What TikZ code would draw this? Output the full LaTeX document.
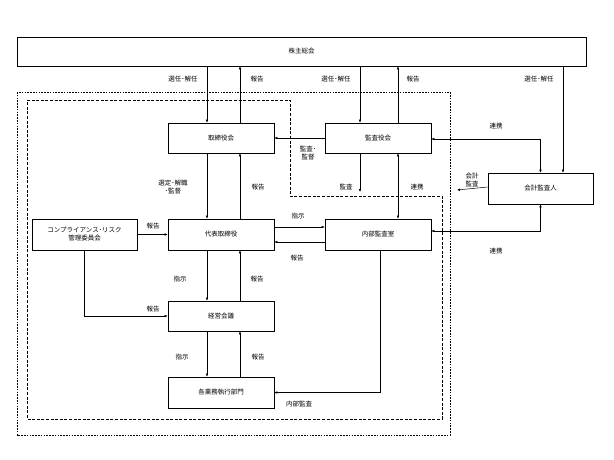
\documentclass[tikz,border=0pt]{standalone}
\usepackage{fontspec}
\setmainfont{Noto Sans CJK JP}
\usetikzlibrary{arrows.meta, positioning, calc}

\begin{document}
\begin{tikzpicture}[
    x=1pt, y=-1pt,
    every node/.style={font=\fontsize{6.5}{8}\selectfont, inner sep=1pt},
    orgbox/.style={rectangle, draw, line width=0.6pt, minimum width=106pt, minimum height=31pt, align=center, inner sep=2pt},
    arrow/.style={-{Latex[length=3pt, width=2.6pt]}, line width=0.5pt},
    twoway/.style={{Latex[length=3pt, width=2.6pt]}-{Latex[length=3pt, width=2.6pt]}, line width=0.5pt},
    lbl/.style={align=center},
    outerline/.style={line width=0.6pt, dash pattern=on 1.6pt off 1.2pt},
    innerline/.style={line width=0.6pt, dash pattern=on 3pt off 1.6pt}
]
\useasboundingbox (0,0) rectangle (614,460);

% ============ BOXES ============
\node[orgbox, minimum width=569pt, minimum height=29pt] (shareholders) at (301.5,51.5) {株主総会};

\node[orgbox, minimum height=30pt] (board) at (221,138) {取締役会};
\node[orgbox, minimum height=30pt] (auditors) at (378,138) {監査役会};
\node[orgbox, minimum width=105pt] (accountant) at (540.5,188.5) {会計監査人};

\node[orgbox, minimum width=105pt] (compliance) at (84.5,234.5) {コンプライアンス･リスク\\管理委員会};
\node[orgbox] (ceo) at (221,234.5) {代表取締役};
\node[orgbox] (audit) at (378,234.5) {内部監査室};

\node[orgbox, minimum height=30pt] (mgmt) at (221,316) {経営会議};
\node[orgbox] (divisions) at (221,392.5) {各業務執行部門};

% ============ DASHED AREAS ============
\draw[outerline] (17,92) rectangle (450,435);
\draw[innerline] (27,100) -- (290,100) -- (290,196) -- (442,196) -- (442,419) -- (27,419) -- cycle;

% free ends
\coordinate (acctend) at (457,190);
\coordinate (auditend) at (360,192);

% ============ ARROWS ============
% shareholders meeting
\draw[arrow] ([xshift=-14pt]board.north |- shareholders.south) -- ([xshift=-14pt]board.north);
\draw[arrow] ([xshift=19pt]board.north) -- ([xshift=19pt]board.north |- shareholders.south);
\draw[arrow] ([xshift=-18pt]auditors.north |- shareholders.south) -- ([xshift=-18pt]auditors.north);
\draw[arrow] ([xshift=20pt]auditors.north) -- ([xshift=20pt]auditors.north |- shareholders.south);
\draw[arrow] ([xshift=22.5pt]accountant.north |- shareholders.south) -- ([xshift=22.5pt]accountant.north);

% auditors
\draw[arrow] (auditors.west) -- (board.east);
\draw[twoway] ([yshift=-1pt]auditors.east) -| (accountant.north);
\draw[arrow] ([yshift=1.5pt]accountant.west) -- (acctend);
\draw[twoway] (accountant.south) |- ([yshift=3.5pt]audit.east);
\draw[arrow] (auditors.south -| auditend) -- (auditend);
\draw[twoway] ([xshift=20pt]auditors.south) -- ([xshift=20pt]audit.north);

% board and representative director
\draw[arrow] ([xshift=-14pt]board.south) -- ([xshift=-14pt]ceo.north);
\draw[arrow] ([xshift=19pt]ceo.north) -- ([xshift=19pt]board.south);
\draw[arrow] ([yshift=7.5pt]ceo.east) -- ([yshift=7.5pt]audit.west);
\draw[arrow] ([yshift=-7.5pt]audit.west) -- ([yshift=-7.5pt]ceo.east);
\draw[arrow] (compliance.east) -- (ceo.west);
\draw[arrow] (compliance.south) |- (mgmt.west);

% management meeting and divisions
\draw[arrow] ([xshift=-14pt]ceo.south) -- ([xshift=-14pt]mgmt.north);
\draw[arrow] ([xshift=19pt]mgmt.north) -- ([xshift=19pt]ceo.south);
\draw[arrow] ([xshift=-14pt]mgmt.south) -- ([xshift=-14pt]divisions.north);
\draw[arrow] ([xshift=19pt]divisions.north) -- ([xshift=19pt]mgmt.south);
\draw[arrow] ([xshift=2pt]audit.south) |- (divisions.east);

% ============ LABELS ============
\node[lbl] (l-elect1) at (183,79) {選任･解任};
\node[lbl] (l-rep1) at (257,79) {報告};
\node[lbl] (l-elect2) at (336,79) {選任･解任};
\node[lbl] (l-rep2) at (413,79) {報告};
\node[lbl] (l-elect3) at (539,79) {選任･解任};

\node[lbl] (l-coop1) at (496,126) {連携};
\node[lbl] (l-supervise) at (308,153) {監査･\\監督};
\node[lbl] (l-acct) at (472,180) {会計\\監査};
\node[lbl] (l-select) at (173,187) {選定･解職\\･監督};
\node[lbl] (l-rep3) at (258,187) {報告};
\node[lbl] (l-audit) at (346,187) {監査};
\node[lbl] (l-coop2) at (417,187) {連携};

\node[lbl] (l-instr1) at (298,216) {指示};
\node[lbl] (l-rep4) at (153,226) {報告};
\node[lbl] (l-rep5) at (297,258) {報告};
\node[lbl] (l-coop3) at (496,251) {連携};

\node[lbl] (l-instr2) at (180,279) {指示};
\node[lbl] (l-rep6) at (257,279) {報告};
\node[lbl] (l-rep7) at (153,309) {報告};

\node[lbl] (l-instr3) at (182,357) {指示};
\node[lbl] (l-rep8) at (258,357) {報告};
\node[lbl] (l-internal) at (299,404) {内部監査};

\end{tikzpicture}
\end{document}
